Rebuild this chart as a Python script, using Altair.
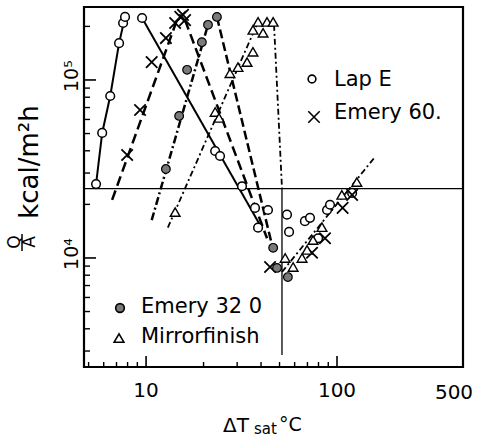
import altair as alt
import pandas as pd

# ---------------- data ----------------
# Lap E (open circles)
lap_x = [5.47, 5.89, 6.49, 7.22, 7.58, 7.76, 9.53, 23.0, 24.4, 31.8, 37.2, 38.6, 43.5,
         54.7, 56.1, 67.9, 72.2, 88.7, 91.9, 120, 79.6]
lap_y = [26000, 50400, 81300, 161000, 209000, 226000, 223000, 39900, 37400, 25300, 19100, 14800, 18600,
         17500, 14000, 16100, 16800, 18600, 19900, 23200, 12900]

# Emery 60 (crosses)
e60_x = [7.96, 9.30, 10.7, 12.7, 14.2, 15.1, 16.0, 15.6, 44.6, 74.0, 86.5, 107, 120]
e60_y = [37900, 67800, 126000, 172000, 209000, 226000, 217000, 232000, 8900, 10700, 12900, 19100, 22600]

# Emery 320 (shaded circles)
e320_x = [12.7, 14.9, 16.4, 19.6, 21.1, 23.5, 46.3, 48.5, 55.3]
e320_y = [31600, 62800, 114000, 163000, 204000, 226000, 11400, 8790, 7810]

# Mirror finish (triangles)
mir_x = [14.2, 23.0, 24.1, 27.5, 30.3, 33.8, 36.3, 36.3, 41.0, 38.6, 43.0, 46.3,
         53.5, 58.9, 65.6, 69.7, 74.9, 83.4, 106, 127]
mir_y = [18100, 66100, 61200, 109000, 118000, 126000, 144000, 191000, 184000, 212000, 212000, 212000,
         10000, 8900, 10000, 11100, 12600, 14900, 22600, 26700]

# drawn curves (vertices)
lap_nuc_lx, lap_nuc_ly = [5.47, 5.89, 6.49, 7.22, 7.76], [26000, 50400, 81300, 161000, 226000]
lap_tr_lx, lap_tr_ly = [9.53, 39.5], [223000, 15300]
e60_nuc_lx, e60_nuc_ly = [6.64, 14.7], [21200, 226000]
e60_tr_lx, e60_tr_ly = [16.0, 43.0], [217000, 12900]
e320_nuc_lx, e320_nuc_ly = [10.7, 21.1], [16300, 204000]
e320_tr_lx, e320_tr_ly = [23.5, 46.3], [226000, 11100]
mir_nuc_lx, mir_nuc_ly = [13.0, 38.6], [14800, 212000]
mir_drop_lx, mir_drop_ly = [46.8, 51.5], [204000, 24700]
mir_drop2_lx, mir_drop2_ly = [51.5, 51.5], [24700, 2850]
mir_film_lx, mir_film_ly = [51.5, 158], [8340, 36900]

fold_y = [24500]

# axis ticks and labels
x_major = [10, 100]
x_minor = [5, 6, 7, 8, 9, 20, 30, 40, 50, 60, 70, 80, 90]
x_lab_pos = [10, 100]
x_lab_txt = ["10", "100"]
x_end_pos = [457]
x_end_txt = ["500"]
y_major = [1e4, 1e5]
y_minor = [3000, 4000, 5000, 6000, 7000, 8000, 9000,
           20000, 30000, 40000, 50000, 60000, 70000, 80000, 90000, 200000]
y_lab_pos = [1e4, 1e5]
y_lab_txt = ["10\u2074", "10\u2075"]

X_DOMAIN = [4.73, 457]
Y_DOMAIN = [2440, 257000]
W, H = 379, 360
FONT = "DejaVu Sans"

xs = alt.Scale(type="log", domain=X_DOMAIN, nice=False)
ys = alt.Scale(type="log", domain=Y_DOMAIN, nice=False)


def X(f="x"):
    return alt.X(f"{f}:Q", scale=xs, axis=None)


def Y(f="y"):
    return alt.Y(f"{f}:Q", scale=ys, axis=None)


def pts(xv, yv):
    return pd.DataFrame({"x": xv, "y": yv})


def line(xv, yv, dash, width):
    df = pd.DataFrame({"x": xv, "y": yv, "i": list(range(len(xv)))})
    kw = dict(color="black", strokeWidth=width, clip=True)
    if dash:
        kw["strokeDash"] = dash
    return alt.Chart(df).mark_line(**kw).encode(x=X(), y=Y(), order="i:Q")


layers = []

# fold line
layers.append(alt.Chart(pd.DataFrame({"y": fold_y})).mark_rule(color="black", strokeWidth=1.3)
              .encode(y=Y(), x=alt.value(0), x2=alt.value(W)))

# curves
layers += [
    line(lap_nuc_lx, lap_nuc_ly, None, 2),
    line(lap_tr_lx, lap_tr_ly, None, 2),
    line(e60_nuc_lx, e60_nuc_ly, [10, 5], 2.5),
    line(e60_tr_lx, e60_tr_ly, [10, 5], 2.5),
    line(e320_nuc_lx, e320_nuc_ly, [8, 3, 2, 3], 2.5),
    line(e320_tr_lx, e320_tr_ly, [9, 4], 2.5),
    line(mir_nuc_lx, mir_nuc_ly, [6, 3, 2, 3], 1.8),
    line(mir_drop_lx, mir_drop_ly, [6, 3, 2, 3], 1.8),
    line(mir_drop2_lx, mir_drop2_ly, None, 1.3),
    line(mir_film_lx, mir_film_ly, [6, 3, 2, 3], 1.8),
]

# points
cross = "M-1,-1L1,1M1,-1L-1,1"
layers += [
    alt.Chart(pts(lap_x, lap_y)).mark_point(shape="circle", filled=True, fill="white", stroke="black",
                                            strokeWidth=1.5, size=75, opacity=1).encode(x=X(), y=Y()),
    alt.Chart(pts(e60_x, e60_y)).mark_point(shape=cross, filled=False, stroke="black",
                                            strokeWidth=1.8, size=130, opacity=1).encode(x=X(), y=Y()),
    alt.Chart(pts(e320_x, e320_y)).mark_point(shape="circle", filled=True, fill="#7a7a7a", stroke="black",
                                              strokeWidth=1.2, size=75, opacity=1).encode(x=X(), y=Y()),
    alt.Chart(pts(mir_x, mir_y)).mark_point(shape="triangle-up", filled=True, fill="white", stroke="black",
                                            strokeWidth=1.4, size=95, opacity=1).encode(x=X(), y=Y()),
]

# ticks (inward)
layers += [
    alt.Chart(pd.DataFrame({"x": x_major})).mark_rule(color="black", strokeWidth=1.6)
    .encode(x=X(), y=alt.value(H), y2=alt.value(H - 11)),
    alt.Chart(pd.DataFrame({"x": x_minor})).mark_rule(color="black", strokeWidth=1.4)
    .encode(x=X(), y=alt.value(H), y2=alt.value(H - 5)),
    alt.Chart(pd.DataFrame({"y": y_major})).mark_rule(color="black", strokeWidth=1.6)
    .encode(y=Y(), x=alt.value(0), x2=alt.value(12)),
    alt.Chart(pd.DataFrame({"y": y_minor})).mark_rule(color="black", strokeWidth=1.4)
    .encode(y=Y(), x=alt.value(0), x2=alt.value(6)),
]

# tick labels
layers += [
    alt.Chart(pd.DataFrame({"x": x_lab_pos, "t": x_lab_txt})).mark_text(
        font=FONT, fontSize=20, baseline="top", color="black")
    .encode(x=X(), y=alt.value(374), text="t:N"),
    alt.Chart(pd.DataFrame({"x": x_end_pos, "t": x_end_txt})).mark_text(
        font=FONT, fontSize=20, baseline="top", color="black", dx=-9)
    .encode(x=X(), y=alt.value(376), text="t:N"),
    alt.Chart(pd.DataFrame({"y": y_lab_pos, "t": y_lab_txt})).mark_text(
        font=FONT, fontSize=19, angle=270, align="left", baseline="middle", dx=-12, color="black")
    .encode(y=Y(), x=alt.value(-12), text="t:N"),
]


def label(txt, x, y, size, **kw):
    return alt.Chart(pd.DataFrame({"t": [txt]})).mark_text(
        font=FONT, fontSize=size, color="black", **kw).encode(
        x=alt.value(x), y=alt.value(y), text="t:N")


def symbol(shape, x, y, fill, size):
    return alt.Chart(pd.DataFrame({"t": [0]})).mark_point(
        shape=shape, filled=fill is not None, fill=fill if fill else "white", stroke="black",
        strokeWidth=1.6, size=size, opacity=1).encode(x=alt.value(x), y=alt.value(y))


# axis titles
layers += [
    label("kcal/m\u00b2h", -54, 155, 26, angle=270, align="center", baseline="middle"),
    label("Q", -69, 235, 17, angle=270, align="center", baseline="middle"),
    label("A", -54, 235, 17, angle=270, align="center", baseline="middle"),
    alt.Chart(pd.DataFrame({"t": [0]})).mark_rule(color="black", strokeWidth=1.5)
    .encode(x=alt.value(-62), y=alt.value(227), y2=alt.value(244)),
    label("\u0394T", 139, 425, 20, align="left", baseline="alphabetic"),
    label("sat", 170, 427, 15, align="left", baseline="alphabetic"),
    label("\u00b0C", 195, 424, 19, align="left", baseline="alphabetic"),
]

# in-plot legend
layers += [
    symbol("circle", 228, 72, "white", 60),
    label("Lap E", 250, 73, 21, align="left", baseline="middle"),
    symbol(cross, 230, 110, None, 130),
    label("Emery 60.", 250, 106, 21, align="left", baseline="middle"),
    symbol("circle", 36, 301, "#7a7a7a", 75),
    label("Emery 32 0", 57, 300, 21, align="left", baseline="middle"),
    symbol("triangle-up", 35, 331, "white", 95),
    label("Mirrorfinish", 57, 330, 21, align="left", baseline="middle"),
]

chart = alt.layer(*layers).properties(
    width=W, height=H, autosize="none",
    padding={"left": 84, "top": 7, "right": 23, "bottom": 74},
    background="white",
).configure_view(stroke="black", strokeWidth=2.2)

chart.save("out.html", embed_options={"renderer": "svg", "actions": False})
